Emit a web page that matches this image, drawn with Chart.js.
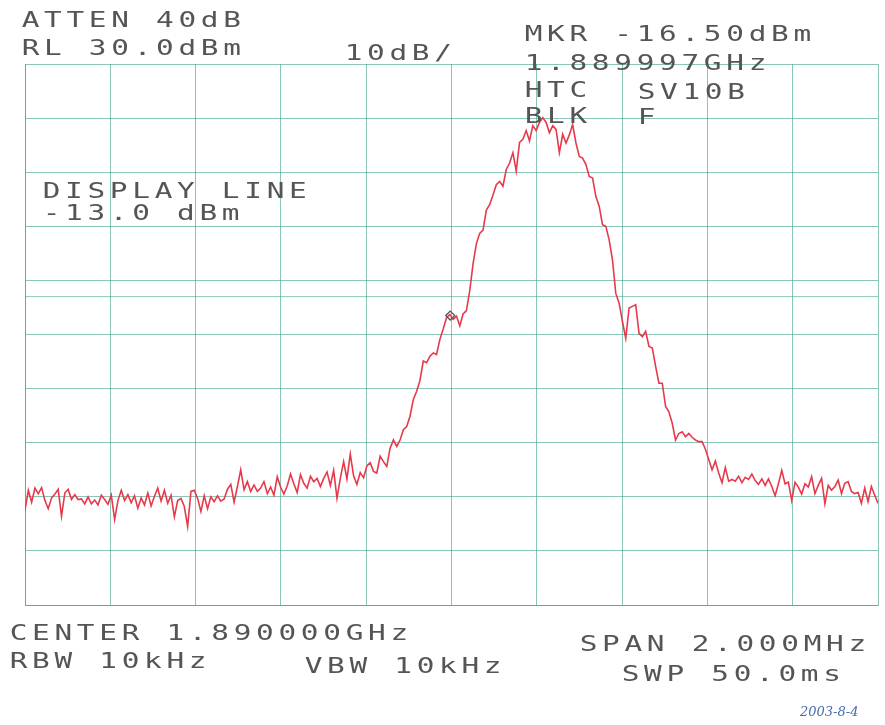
<!DOCTYPE html>
<html>
<head>
<meta charset="utf-8">
<script src="https://cdn.jsdelivr.net/npm/chart.js@4.4.1/dist/chart.umd.min.js"></script>
<style>
  html, body { margin: 0; padding: 0; background: #fff; }
  #spectrum { display: block; }
</style>
</head>
<body>
<canvas id="spectrum" width="885" height="725"></canvas>
<script>
// sweep: offset from 1.890000 GHz, in kHz (span 2 MHz)
const spanStart = -1000;
const spanStop = 1000;
const freqTicks = [-1000, -800, -600, -400, -200, 0, 200, 400, 600, 800, 1000];
const levelTicks = [30, 20, 10, 0, -10, -20, -30, -40, -50, -60, -70];

// trace levels in dBm left to right
const traceLevels = [
    -52.5, -48.8, -51.0, -48.4, -49.4, -48.3, -50.7, -52.2, -50.2, -49.5,
    -48.6, -53.6, -49.3, -48.6, -50.5, -49.6, -50.5, -50.4, -51.3, -50.0,
    -51.3, -50.6, -51.5, -49.7, -50.5, -51.4, -49.7, -54.2, -50.7, -48.8,
    -50.7, -49.6, -51.1, -49.8, -52.1, -50.2, -51.5, -49.3, -51.7, -49.9,
    -48.4, -50.8, -48.8, -51.2, -49.7, -53.7, -50.7, -50.3, -51.8, -55.5,
    -49.0, -48.8, -50.3, -52.7, -49.8, -52.2, -50.0, -50.9, -49.8, -50.8,
    -50.4, -48.6, -47.7, -51.0,
    -48.1, -45.0, -48.7, -47.2, -49.0, -47.8, -49.0, -48.4, -47.2, -49.4,
    -48.2, -49.7, -46.3, -48.2, -49.5, -48.0, -45.8, -47.6, -49.2, -45.9,
    -47.5, -48.4, -46.2, -47.2, -46.6, -48.1, -46.6, -45.4, -47.9, -45.1,
    -50.3, -46.6, -43.5, -46.7, -42.1, -46.1, -47.7, -45.5, -46.5, -44.3,
    -43.7, -45.3, -45.6, -42.5, -43.5, -44.4, -41.0, -39.5, -40.7, -39.5,
    -37.6, -37.0, -35.1, -32.0, -30.5, -28.5, -24.9, -25.2, -24.0, -23.4,
    -23.7, -20.9, -19.0,
    -16.9, -16.3, -17.2, -16.6, -18.4, -16.2, -15.6, -11.9, -6.9, -3.2,
    -1.3, -0.7, 3.0, 4.0, 5.8, 7.7, 8.3, 7.4, 10.5, 11.7,
    13.6, 10.2, 15.5, 16.1, 17.7, 15.8, 18.6, 17.7, 19.2, 20.1,
    19.2, 17.3, 18.6, 17.9, 13.6, 17.0,
    15.4, 16.9, 18.8, 15.4, 12.9, 12.6, 11.4, 9.2, 8.9, 5.5,
    3.7, 0.3, 0.0, -2.5, -6.2, -12.4, -14.2, -17.6, -20.7, -15.1,
    -14.8, -14.5, -19.8, -20.4, -19.4, -22.2, -22.5, -25.9, -29.0, -29.0,
    -33.3, -34.3, -36.4, -39.5, -38.3, -38.0, -38.9, -38.3, -39.0, -39.5,
    -39.8, -39.8,
    -41.2, -43.1, -45.0, -43.4, -45.6, -47.4, -44.6, -47.1, -46.8, -47.1,
    -46.2, -47.4, -46.4, -46.8, -45.8, -47.0, -47.7, -46.7, -47.9, -46.7,
    -48.1, -49.8, -47.6, -45.1, -47.6, -47.3, -50.7, -47.3, -48.2, -49.5,
    -47.6, -48.2, -46.3, -49.4, -47.9, -46.6, -51.3, -47.9, -48.8, -48.1,
    -46.9, -49.4, -47.5, -47.2, -49.0, -49.4, -49.2, -51.2, -48.4, -50.9,
    -48.1, -49.7, -51.2
];

const displayLine = -13.0;
const markerFreq = -3;      // 1.889997 GHz
const markerLevel = -16.5;

// annotations printed by the analyzer: [text, left x, baseline y]
const labelsTop = [
    ["ATTEN 40dB", 22, 27],
    ["RL 30.0dBm", 22, 55],
    ["10dB/", 345, 60],
    ["MKR -16.50dBm", 525, 41],
    ["1.889997GHz", 525, 70],
    ["HTC", 525, 97],
    ["SV10B", 638, 99],
    ["BLK", 525, 123],
    ["F", 638, 124],
    ["DISPLAY LINE", 43, 198],
    ["-13.0 dBm", 43, 220]
];
const labelsBottom = [
    ["CENTER 1.890000GHz", 10, 640],
    ["RBW 10kHz", 10, 668],
    ["VBW 10kHz", 305, 673],
    ["SPAN 2.000MHz", 580, 651],
    ["SWP 50.0ms", 622, 681]
];

const gridColor = 'rgba(60,160,135,0.6)';

let tracePoints = traceLevels.map((v, i) => ({
    x: spanStart + (spanStop - spanStart) * i / (traceLevels.length - 1),
    y: v
}));

// texte style table traçante
const plotterText = {
    id: 'plotterText',
    beforeDraw(chart) {
        const c = chart.ctx;
        c.save();
        c.fillStyle = '#ffffff';
        c.fillRect(0, 0, chart.width, chart.height);
        c.restore();
    },
    afterDraw(chart) {
        const c = chart.ctx;
        c.save();
        c.fillStyle = '#555555';
        c.font = '21px "DejaVu Sans Mono"';
        c.textAlign = 'center';
        c.textBaseline = 'alphabetic';
        labelsTop.concat(labelsBottom).forEach(([t, x, y]) => {
            for (let i = 0; i < t.length; i++) {
                c.save();
                c.translate(x + i * 22.4 + 8.5, y);
                c.scale(1.4, 1);
                c.fillText(t[i], 0, 0);
                c.restore();
            }
        });
        // signature manuscrite
        c.fillStyle = '#4a6bb0';
        c.font = 'italic 13px "DejaVu Serif"';
        c.textAlign = 'left';
        c.fillText('2003-8-4', 800, 716);
        c.restore();
    }
};

new Chart(document.getElementById('spectrum').getContext('2d'), {
    type: 'line',
    data: {
        datasets: [
            {
                label: 'trace',
                data: tracePoints,
                borderColor: '#e63a4c',
                borderWidth: 1.6,
                pointRadius: 0,
                tension: 0,
                order: 2
            },
            {
                label: 'display line',
                data: [{ x: spanStart, y: displayLine }, { x: spanStop, y: displayLine }],
                borderColor: gridColor,
                borderWidth: 1,
                pointRadius: 0,
                order: 3
            },
            {
                label: 'marker',
                data: [{ x: markerFreq, y: markerLevel }],
                showLine: false,
                pointStyle: 'rectRot',
                pointRadius: 4.5,
                pointBorderColor: '#555',
                pointBackgroundColor: 'rgba(255,255,255,0)',
                pointBorderWidth: 1.3,
                order: 1
            }
        ]
    },
    options: {
        responsive: false,
        animation: false,
        devicePixelRatio: 1,
        layout: { padding: { left: 25, right: 7, top: 64, bottom: 120 } },
        plugins: { legend: { display: false }, tooltip: { enabled: false } },
        scales: {
            x: {
                type: 'linear',
                min: spanStart,
                max: spanStop,
                afterBuildTicks: (scale) => { scale.ticks = freqTicks.map(v => ({ value: v })); },
                ticks: { display: false },
                grid: { color: gridColor, lineWidth: 1, drawTicks: false },
                border: { display: true, color: gridColor }
            },
            y: {
                type: 'linear',
                min: -70,
                max: 30,
                afterBuildTicks: (scale) => { scale.ticks = levelTicks.map(v => ({ value: v })); },
                ticks: { display: false },
                grid: { color: gridColor, lineWidth: 1, drawTicks: false },
                border: { display: true, color: gridColor }
            }
        }
    },
    plugins: [plotterText]
});
</script>
</body>
</html>
